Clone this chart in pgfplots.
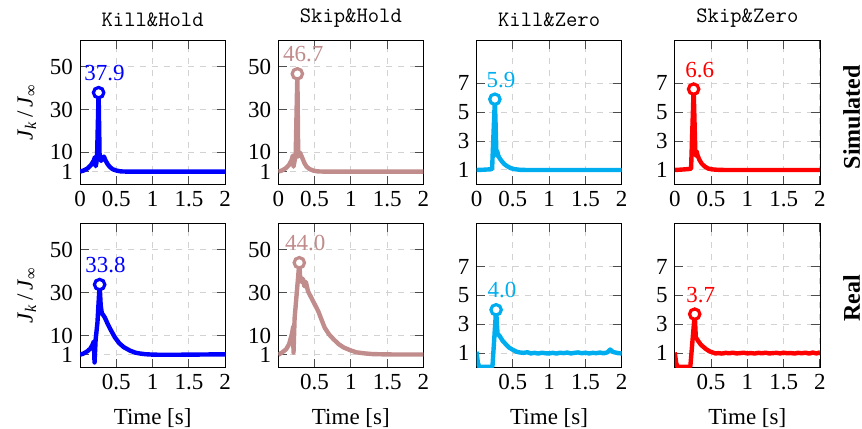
\documentclass[border=0pt]{standalone}
\usepackage{fontspec}
\setmainfont{Liberation Serif}
\usepackage{pgfplots}
\pgfplotsset{compat=1.18}
\usepgfplotslibrary{groupplots}

\definecolor{cKH}{RGB}{0,0,255}
\definecolor{cSH}{RGB}{192,140,140}
\definecolor{cKZ}{RGB}{0,174,239}
\definecolor{cSZ}{RGB}{255,0,0}
\newcommand{\fs}{\fontsize{11.5}{13}\selectfont}

\pgfplotsset{
  curve/.style={#1, line width=2.2pt, line join=round, no marks},
  peak/.style={only marks, mark=*, mark size=2.6pt, line width=1.6pt,
    mark options={fill=white, draw=#1, solid},
    nodes near coords, point meta=explicit symbolic,
    every node near coord/.append style={anchor=south, inner sep=0pt, yshift=5pt, xshift=3pt, font=\fs, text=#1}},
  holdax/.style={ymin=-5, ymax=62.5, ytick={1,10,30,50}},
  zeroax/.style={ymin=0, ymax=10, ytick={1,3,5,7}},
}

\begin{document}
\begin{tikzpicture}
\begin{groupplot}[
  group style={group size=4 by 2, horizontal sep=26.5pt, vertical sep=19.35pt},
  scale only axis, width=72.6pt, height=72.2pt,
  xmin=0, xmax=2,
  grid=major, major grid style={dashed, gray!35, line width=0.5pt},
  tick style={black!70, line width=0.5pt},
  /pgf/number format/assume math mode=true,
  xticklabel={\pgfmathprintnumber{\tick}},
  yticklabel={\pgfmathprintnumber{\tick}},
  tick label style={font=\fs},
  label style={font=\fs},
  xlabel style={yshift=-2.3pt},
  title style={font=\ttfamily\addfontfeature{FakeBold=1.2}\fontsize{11}{13}\selectfont},
  every axis title shift=3pt,
]
% ---------- Row 1: Simulated ----------
\nextgroupplot[holdax, title={Kill\&Hold}, xtick={0,0.5,1,1.5,2},
  ylabel={\textit{J}\textsubscript{\textit{k}}\,/\,\textit{J}\textsubscript{∞}}]
\addplot[curve=cKH] coordinates {(0,1) (0.05,1.5) (0.1,2.4) (0.15,4) (0.19,6.2) (0.205,7.8) (0.215,3.5) (0.225,5) (0.235,8.5) (0.256,37.9) (0.27,7.5) (0.29,6) (0.31,7.5) (0.33,8) (0.35,6.3) (0.38,4.5) (0.41,3.2) (0.45,2.1) (0.5,1.5) (0.55,1.15) (0.6,1.03) (0.7,1) (1,1) (1.5,1) (2,1)};
\addplot[peak=cKH] coordinates {(0.256,37.9) [37.9]};

\nextgroupplot[holdax, title={Skip\&Hold}, xtick={0,0.5,1,1.5,2}]
\addplot[curve=cSH] coordinates {(0,1) (0.05,1.5) (0.1,2.5) (0.15,4.2) (0.185,6.5) (0.2,8.5) (0.21,3.3) (0.225,6) (0.24,9) (0.263,46.7) (0.275,8) (0.29,9.5) (0.3,9.8) (0.33,7.5) (0.36,5) (0.39,3.3) (0.43,2.2) (0.48,1.5) (0.53,1.15) (0.58,1.03) (0.7,1) (1,1) (1.5,1) (2,1)};
\addplot[peak=cSH] coordinates {(0.263,46.7) [46.7]};

\nextgroupplot[zeroax, title={Kill\&Zero}, xtick={0,0.5,1,1.5,2}]
\addplot[curve=cKZ] coordinates {(0,1) (0.1,1.02) (0.2,1.05) (0.215,1.1) (0.253,5.9) (0.275,2.0) (0.285,2.3) (0.3,2.0) (0.32,1.8) (0.35,1.6) (0.38,1.42) (0.42,1.27) (0.47,1.13) (0.52,1.06) (0.6,1.01) (0.7,1) (1,1) (1.5,1) (2,1)};
\addplot[peak=cKZ] coordinates {(0.253,5.9) [5.9]};

\nextgroupplot[zeroax, title={Skip\&Zero}, xtick={0,0.5,1,1.5,2}]
\addplot[curve=cSZ] coordinates {(0,1) (0.1,1.03) (0.2,1.07) (0.225,1.1) (0.26,6.6) (0.285,2) (0.3,2.3) (0.315,2.0) (0.34,1.7) (0.37,1.45) (0.41,1.25) (0.46,1.1) (0.52,1.04) (0.6,1.01) (0.7,1) (1,1) (1.5,1) (2,1)};
\addplot[peak=cSZ] coordinates {(0.26,6.6) [6.6]};

% ---------- Row 2: Real ----------
\nextgroupplot[holdax, xtick={0.5,1,1.5,2}, xlabel={Time [s]},
  ylabel={\textit{J}\textsubscript{\textit{k}}\,/\,\textit{J}\textsubscript{∞}}]
\addplot[curve=cKH] coordinates {(0,1) (0.05,1.6) (0.1,2.6) (0.14,3.8) (0.17,5.5) (0.19,7.2) (0.2,-2.6) (0.215,8) (0.24,16) (0.27,33.8) (0.285,24) (0.3,20.5) (0.34,18.5) (0.38,15.5) (0.42,12.8) (0.48,9.1) (0.54,6.4) (0.6,4.6) (0.69,2.9) (0.76,2.0) (0.82,1.6) (0.9,1.25) (1,1.05) (1.1,1.0) (1.2,0.98) (1.3,1.0) (1.4,1.02) (1.5,1.05) (1.6,1.08) (1.7,1.1) (1.8,1.15) (1.9,1.18) (2,1.2)};
\addplot[peak=cKH] coordinates {(0.27,33.8) [33.8]};

\nextgroupplot[holdax, xtick={0.5,1,1.5,2}, xlabel={Time [s]}]
\addplot[curve=cSH] coordinates {(0,1) (0.05,2) (0.11,3.6) (0.15,6) (0.19,11) (0.205,14) (0.21,2) (0.225,18) (0.29,44) (0.3,38) (0.32,35) (0.34,36.5) (0.36,33) (0.38,35) (0.41,30.6) (0.45,28) (0.48,26) (0.55,21.4) (0.6,17) (0.64,13.6) (0.7,10.5) (0.76,8.3) (0.83,6) (0.9,4.4) (1.0,3) (1.08,2.1) (1.2,1.6) (1.3,1.3) (1.5,1.15) (1.7,1.1) (2,1.1)};
\addplot[peak=cSH] coordinates {(0.29,44.0) [44.0]};

\nextgroupplot[zeroax, xtick={0.5,1,1.5,2}, xlabel={Time [s]}]
\addplot[curve=cKZ] coordinates {(0,1.1) (0.02,0.3) (0.04,0.05) (0.1,0.05) (0.2,0.05) (0.22,0.1) (0.27,4.0) (0.29,2.3) (0.31,2.25) (0.33,2.1) (0.36,1.85) (0.41,1.58) (0.45,1.38) (0.5,1.23) (0.55,1.1) (0.59,1.05) (0.65,1.02) (0.7,1.06) (0.75,0.98) (0.8,1.02) (0.85,0.97) (0.9,1.03) (0.95,0.99) (1.0,0.98) (1.05,1.02) (1.1,0.97) (1.15,1.03) (1.2,1.0) (1.25,1.04) (1.3,0.98) (1.35,1.02) (1.4,1.05) (1.45,0.99) (1.5,1.03) (1.55,0.98) (1.6,1.02) (1.65,1.0) (1.7,1.04) (1.75,0.99) (1.8,1.05) (1.84,1.25) (1.88,1.08) (1.95,1.0) (2,0.98)};
\addplot[peak=cKZ] coordinates {(0.27,4.0) [4.0]};

\nextgroupplot[zeroax, xtick={0.5,1,1.5,2}, xlabel={Time [s]}]
\addplot[curve=cSZ] coordinates {(0,1.05) (0.02,0.3) (0.04,0.05) (0.1,0.05) (0.2,0.05) (0.215,0.1) (0.275,3.7) (0.29,2.1) (0.32,1.86) (0.36,1.58) (0.43,1.28) (0.48,1.12) (0.52,1.05) (0.56,0.98) (0.6,1.0) (0.65,0.97) (0.7,1.02) (0.75,0.99) (0.8,1.03) (0.85,0.98) (0.9,1.0) (0.95,1.03) (1.0,0.98) (1.05,1.01) (1.1,0.97) (1.15,1.02) (1.2,0.99) (1.25,1.03) (1.3,0.98) (1.35,1.0) (1.4,1.02) (1.45,0.98) (1.5,1.03) (1.55,0.99) (1.6,1.01) (1.65,0.97) (1.7,1.02) (1.75,0.99) (1.8,1.03) (1.85,0.97) (1.9,1.04) (1.95,0.98) (2,1.05)};
\addplot[peak=cSZ] coordinates {(0.275,3.7) [3.7]};
\end{groupplot}
\node[rotate=90, anchor=center, inner sep=0pt, font=\bfseries\fontsize{12}{14}\selectfont] at ([xshift=15.8pt,yshift=-2.5pt]group c4r1.east) {Simulated};
\node[rotate=90, anchor=center, inner sep=0pt, font=\bfseries\fontsize{12}{14}\selectfont] at ([xshift=15.8pt,yshift=-1.5pt]group c4r2.east) {Real};
\pgfresetboundingbox
\path ([xshift=-40pt,yshift=20pt]group c1r1.north west) rectangle ([xshift=21pt,yshift=-30.35pt]group c4r2.south east);
\end{tikzpicture}
\end{document}
